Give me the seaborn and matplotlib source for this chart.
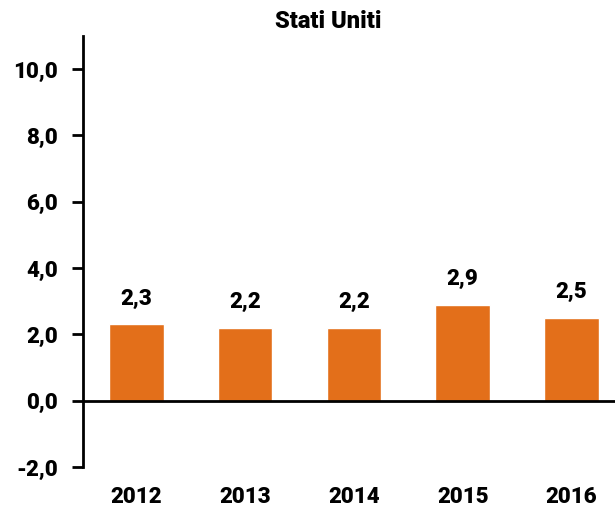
import matplotlib
matplotlib.use("Agg")
import matplotlib.pyplot as plt
import seaborn as sns
import pandas as pd

years = ["2012", "2013", "2014", "2015", "2016"]
values = [2.3, 2.2, 2.2, 2.9, 2.5]
yticks = [-2.0, 0.0, 2.0, 4.0, 6.0, 8.0, 10.0]
title = "Stati Uniti"

sns.set_style("white")
plt.rcParams["font.family"] = ["Roboto", "DejaVu Sans"]
plt.rcParams["text.color"] = "black"
plt.rcParams["xtick.color"] = "black"
plt.rcParams["ytick.color"] = "black"

df = pd.DataFrame({"year": years, "value": values})

fig = plt.figure(figsize=(6.15, 5.12), dpi=100)
ax = fig.add_axes([83/615, 1 - 467/512, 1 - 83/615, (467 - 36)/512])

sns.barplot(data=df, x="year", y="value", color="#E36F1A", width=0.5,
            saturation=1, ax=ax)

ax.set_ylim(-2, 11)
ax.set_xlim(-0.49, 4.4)
ax.set_yticks(yticks)
ax.set_yticklabels([f"{t:.1f}".replace(".", ",") for t in yticks],
                   fontsize=16, fontweight="heavy")
ax.tick_params(axis="y", length=8, width=2, pad=10, left=True, color="black",
               labelcolor="black")
ax.tick_params(axis="x", length=0, pad=14, labelcolor="black")
for lbl in ax.get_xticklabels():
    lbl.set_fontsize(16)
    lbl.set_fontweight("heavy")
ax.set_xlabel("")
ax.set_ylabel("")

for s in ["top", "right", "bottom"]:
    ax.spines[s].set_visible(False)
ax.spines["left"].set_linewidth(2)
ax.spines["left"].set_color("black")
ax.axhline(0, color="black", linewidth=2, zorder=3)

for i, v in enumerate(values):
    ax.text(i, v + 0.45, f"{v:.1f}".replace(".", ","), ha="center", va="bottom",
            fontsize=16, fontweight="heavy", color="black")

fig.text(328/615, 1 - 22/512, title, ha="center", va="center",
         fontsize=17, fontweight="heavy", color="black")

fig.savefig("out.png", dpi=100)
